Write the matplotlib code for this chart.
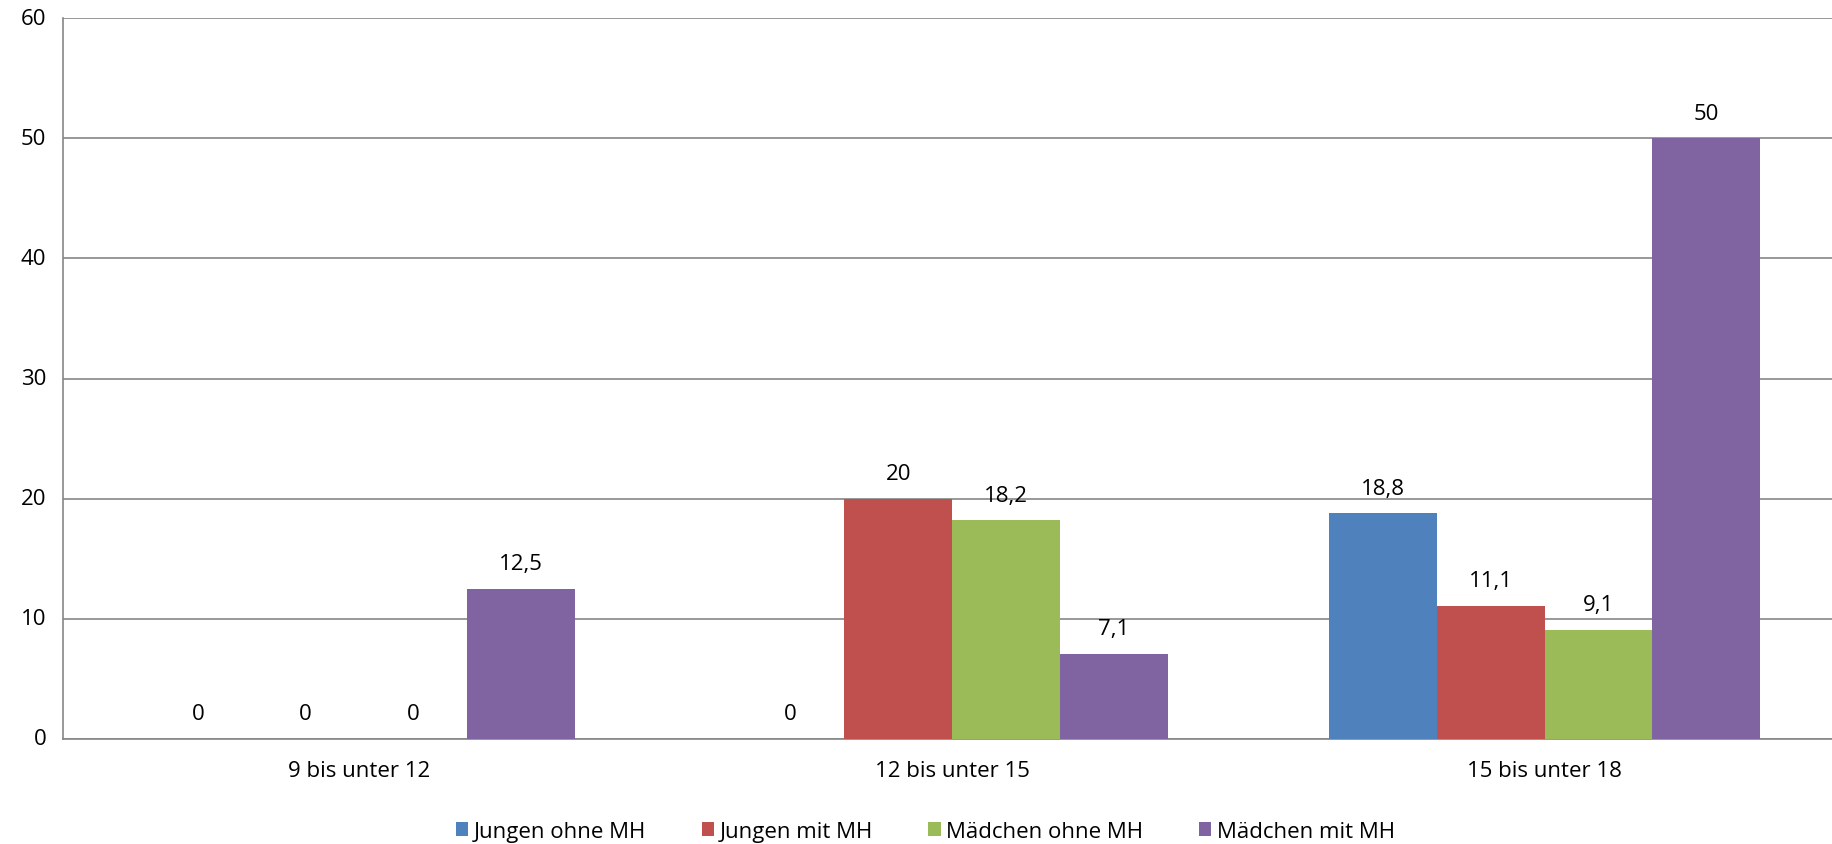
import numpy as np
import matplotlib.pyplot as plt

# Altersgruppen und Werte (in %)
categories = ["9 bis unter 12", "12 bis unter 15", "15 bis unter 18"]
series_names = ["Jungen ohne MH", "Jungen mit MH", "Mädchen ohne MH", "Mädchen mit MH"]
jungen_ohne = [0, 0, 18.8]
jungen_mit = [0, 20, 11.1]
maedchen_ohne = [0, 18.2, 9.1]
maedchen_mit = [12.5, 7.1, 50]
colors = ["#4F81BD", "#C0504D", "#9BBB59", "#8064A2"]

plt.rcParams['font.family'] = ['Open Sans', 'DejaVu Sans']

fig = plt.figure(figsize=(18.33, 8.45), dpi=100)
ax = fig.add_axes([0.0344, 0.1243, 0.970, 0.853])

x = np.arange(len(categories))
width = 1 / 5.5  # Excel gap width 150%
all_series = [jungen_ohne, jungen_mit, maedchen_ohne, maedchen_mit]

for i, (vals, name, col) in enumerate(zip(all_series, series_names, colors)):
    pos = x + (i - 1.5) * width
    ax.bar(pos, vals, width, color=col, label=name, zorder=3)
    for p, v in zip(pos, vals):
        txt = f"{v:g}".replace(".", ",")
        ax.annotate(txt, (p, v), xytext=(0, 18), textcoords="offset points",
                    ha="center", va="center", fontsize=16)

ax.set_xlim(-0.5, 2.5)
ax.set_ylim(0, 60)
ax.set_yticks(range(0, 61, 10))
ax.set_xticks(x)
ax.set_xticklabels(categories, fontsize=16)
ax.tick_params(axis="y", labelsize=16, length=0, pad=12)
ax.tick_params(axis="x", length=0, pad=15)
for lab in ax.get_yticklabels():
    lab.set_verticalalignment("center")
ax.grid(axis="y", color="#868686", linewidth=1.2, zorder=0)

for s in ["top", "right"]:
    ax.spines[s].set_visible(False)
for s in ["left", "bottom"]:
    ax.spines[s].set_color("#868686")
    ax.spines[s].set_linewidth(1.2)

ax.legend(loc="center", bbox_to_anchor=(0.485, -0.128), ncol=4, frameon=False,
          fontsize=16, handlelength=0.55, handleheight=0.55, handletextpad=0.25,
          columnspacing=2.5)

fig.savefig("out.png", dpi=100)
